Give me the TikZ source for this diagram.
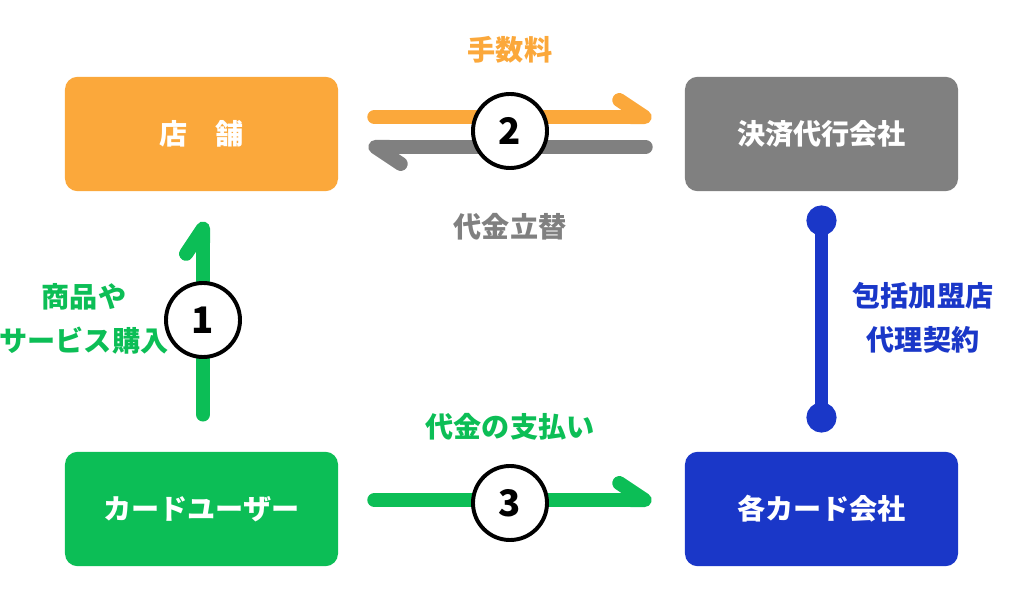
\documentclass[tikz,border=0pt]{standalone}
\usepackage{fontspec}
\setmainfont{Noto Sans CJK JP}[BoldFont=* Black]
\usetikzlibrary{arrows.meta,calc}
\definecolor{shoporange}{HTML}{FBA83B}
\definecolor{agentgray}{HTML}{808080}
\definecolor{usergreen}{HTML}{0CBE56}
\definecolor{cardblue}{HTML}{1A37C8}

\begin{document}
\begin{tikzpicture}
  [x=0.025cm,y=0.025cm,
   box/.style={rounded corners=9pt,minimum width=6.825cm,minimum height=2.86cm,
     text=white,font=\bfseries\fontsize{20}{24}\selectfont},
   harpoon/.style={line width=10pt,line cap=round,
     -{Straight Barb[left,length=18pt,width=24pt,round]}},
   step num/.style={circle,draw=black,fill=white,line width=2.8pt,minimum size=1.85cm,
     inner sep=0pt,font=\bfseries\fontsize{26}{30}\selectfont},
   tag/.style={font=\bfseries\fontsize{20}{31}\selectfont,align=center}]

  \useasboundingbox (0,0) rectangle (1024,597);

  % boxes
  \node[box,fill=shoporange] (store) at (201.5,463) {店　舗};
  \node[box,fill=agentgray] (agent) at (821.5,463) {決済代行会社};
  \node[box,fill=usergreen] (user) at (201.5,88) {カードユーザー};
  \node[box,fill=cardblue] (card) at (821.5,88) {各カード会社};

  % flows
  \draw[harpoon,draw=shoporange] ($(store.east)+(36,17)$) -- ($(agent.west)+(-33,17)$);
  \draw[harpoon,draw=agentgray] ($(agent.west)+(-39,-13)$) -- ($(store.east)+(30,-13)$);
  \draw[harpoon,draw=usergreen] ($(user.north)+(1.5,37)$) -- ($(store.south)+(1.5,-30)$);
  \draw[harpoon,draw=usergreen] ($(user.east)+(36,9)$) -- ($(card.west)+(-33,9)$);
  \draw[line width=9pt,draw=cardblue,{Circle[length=0.75cm]}-{Circle[length=0.75cm]},
    shorten <=0.35cm,shorten >=0.475cm] (agent.south) -- (card.north);

  % numbers
  \node[step num] (c1) at (203,277) {1};
  \node[step num] (c2) at (510,466) {2};
  \node[step num] (c3) at (510,94) {3};

  % labels
  \node[tag,text=shoporange] (fee) at (510,547) {手数料};
  \node[tag,text=agentgray] (advance) at (510,370) {代金立替};
  \node[tag,text=usergreen] (buy) at (84,278) {商品や\\サービス購入};
  \node[tag,text=usergreen] (pay) at (510,170) {代金の支払い};
  \node[tag,text=cardblue] (contract) at (923,279) {包括加盟店\\代理契約};
\end{tikzpicture}
\end{document}
